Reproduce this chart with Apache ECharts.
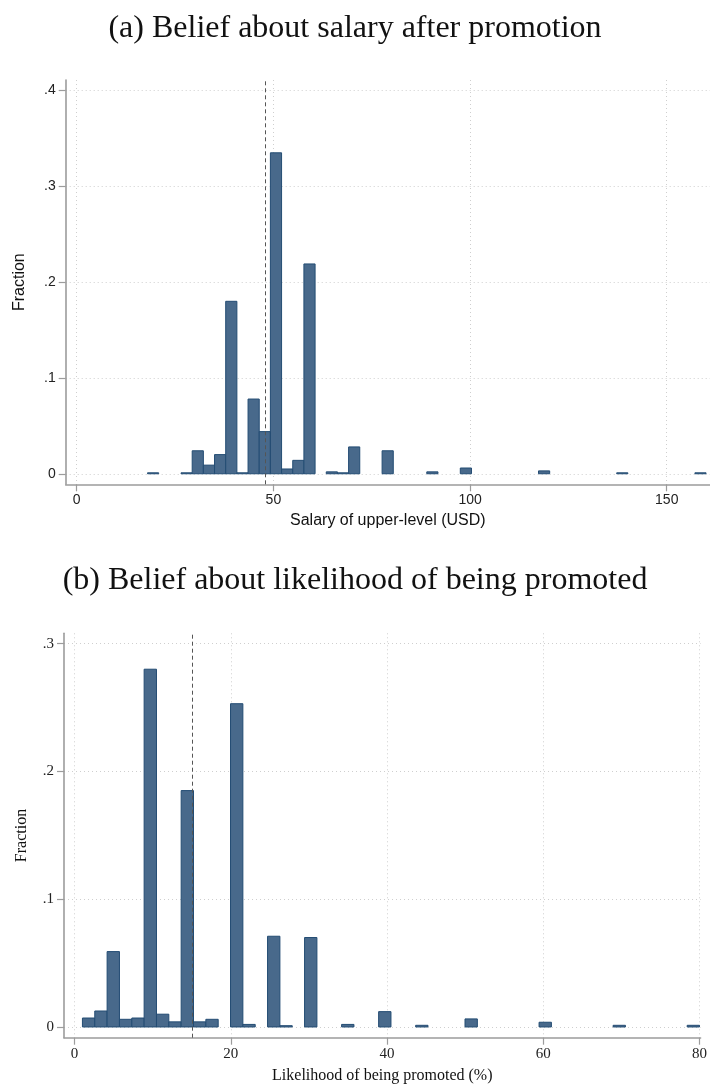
<!DOCTYPE html>
<html>
<head>
<meta charset="utf-8">
<script src="https://cdn.jsdelivr.net/npm/echarts@6/dist/echarts.min.js"></script>
<style>
  html, body { margin: 0; padding: 0; background: #ffffff; }
  #chart { width: 710px; height: 1088px; }
</style>
</head>
<body>
<div id="chart"></div>
<script>
// Panel (a): salary beliefs, histogram bins (lower edge) and fraction per bin
const salaryBinWidth = 2.84;
const salaryBinLo = [18.00, 26.52, 29.36, 32.20, 35.04, 37.88, 40.72, 43.56, 46.40, 49.24, 52.08,
                     54.92, 57.76, 63.44, 66.28, 69.12, 77.64, 89.00, 97.52, 117.40, 137.28, 157.16];
const salaryFrac  = [0.001, 0.001, 0.024, 0.009, 0.020, 0.180, 0.001, 0.078, 0.044, 0.335, 0.005,
                     0.014, 0.219, 0.002, 0.001, 0.028, 0.024, 0.002, 0.006, 0.003, 0.001, 0.001];
const salaryMean = 48;
const salaryXTicks = [0, 50, 100, 150];
const salaryYTicks = [0, 0.1, 0.2, 0.3, 0.4];

// Panel (b): promotion likelihood beliefs
const promoBinWidth = 1.58;
const promoBinLo = [1.00, 2.58, 4.16, 5.74, 7.32, 8.90, 10.48, 12.06, 13.64, 15.22, 16.80, 19.96,
                    21.54, 24.70, 26.28, 29.44, 34.18, 38.92, 43.66, 49.98, 59.46, 68.94, 78.42];
const promoFrac  = [0.007, 0.0125, 0.059, 0.006, 0.007, 0.280, 0.010, 0.004, 0.185, 0.004, 0.006, 0.253,
                    0.002, 0.071, 0.001, 0.070, 0.002, 0.012, 0.0013, 0.0063, 0.0037, 0.0013, 0.0013];
const promoMean = 15;
const promoXTicks = [0, 20, 40, 60, 80];
const promoYTicks = [0, 0.1, 0.2, 0.3];

const BAR_FILL = '#48698b';
const BAR_EDGE = '#234c73';
const AXIS_GREY = '#9c9c9c';
const GRID_GREY = '#cfcfcf';

function binRows(lo, w, frac) {
  return lo.map((x, i) => [x, x + w, frac[i]]);
}

function renderBar(params, api) {
  const top = api.coord([api.value(0), api.value(2)]);
  const base = api.coord([api.value(1), 0]);
  return {
    type: 'rect',
    shape: { x: top[0], y: top[1], width: base[0] - top[0], height: base[1] - top[1] },
    style: { fill: BAR_FILL, stroke: BAR_EDGE, lineWidth: 1 }
  };
}

function fracLabel(v) {
  return v === 0 ? '0' : String(v).replace(/^0/, '');
}

function xAxisCfg(gridIndex, min, max, ticks, font, size, name, gap) {
  return {
    type: 'value', gridIndex, min, max,
    name, nameLocation: 'middle', nameGap: gap,
    nameTextStyle: { fontFamily: font, fontSize: 16, color: '#111' },
    axisLine: { show: true, onZero: false, lineStyle: { color: AXIS_GREY, width: 1.6 } },
    axisTick: { show: true, length: 7, customValues: ticks, lineStyle: { color: AXIS_GREY, width: 1.2 } },
    axisLabel: { customValues: ticks, margin: 9, fontFamily: font, fontSize: size, color: '#222' },
    splitLine: { show: true, lineStyle: { color: GRID_GREY, type: [1, 3], width: 1 } }
  };
}

function yAxisCfg(gridIndex, min, max, ticks, font, size, gap) {
  return {
    type: 'value', gridIndex, min, max,
    name: 'Fraction', nameLocation: 'middle', nameGap: gap,
    nameTextStyle: { fontFamily: font, fontSize: 16, color: '#111' },
    axisLine: { show: true, onZero: false, lineStyle: { color: AXIS_GREY, width: 1.6 } },
    axisTick: { show: true, length: 7, customValues: ticks, lineStyle: { color: AXIS_GREY, width: 1.2 } },
    axisLabel: { customValues: ticks, margin: 10, fontFamily: font, fontSize: size, color: '#222',
                 formatter: fracLabel },
    splitLine: { show: true, lineStyle: { color: GRID_GREY, type: [1, 3], width: 1 } }
  };
}

function meanLine(x) {
  return {
    silent: true, symbol: 'none', label: { show: false },
    lineStyle: { color: '#555', type: [4, 3], width: 1 },
    data: [{ xAxis: x }]
  };
}

const SANS = 'Liberation Sans';
const SERIF = 'Liberation Serif';

const chart = echarts.init(document.getElementById('chart'), null, { renderer: 'canvas' });
chart.setOption({
  backgroundColor: '#ffffff',
  animation: false,
  title: [
    { text: '(a) Belief about salary after promotion', left: 'center', top: 8,
      textStyle: { fontFamily: SERIF, fontSize: 32, fontWeight: 'normal', color: '#111' } },
    { text: '(b) Belief about likelihood of being promoted', left: 'center', top: 560,
      textStyle: { fontFamily: SERIF, fontSize: 32, fontWeight: 'normal', color: '#111' } }
  ],
  grid: [
    { left: 65.7, right: 0, top: 80, height: 404.3 },
    { left: 64, right: 3, top: 633.3, height: 404.4 }
  ],
  xAxis: [
    xAxisCfg(0, -2.8, 161, salaryXTicks, SANS, 14, 'Salary of upper-level (USD)', 28),
    xAxisCfg(1, -1.36, 80.14, promoXTicks, SERIF, 15, 'Likelihood of being promoted (%)', 30)
  ],
  yAxis: [
    yAxisCfg(0, -0.011, 0.411, salaryYTicks, SANS, 14, 38),
    yAxisCfg(1, -0.0084, 0.3081, promoYTicks, SERIF, 15, 34)
  ],
  series: [
    { type: 'custom', xAxisIndex: 0, yAxisIndex: 0, renderItem: renderBar,
      encode: { x: [0, 1], y: 2 }, data: binRows(salaryBinLo, salaryBinWidth, salaryFrac),
      markLine: meanLine(salaryMean) },
    { type: 'custom', xAxisIndex: 1, yAxisIndex: 1, renderItem: renderBar,
      encode: { x: [0, 1], y: 2 }, data: binRows(promoBinLo, promoBinWidth, promoFrac),
      markLine: meanLine(promoMean) }
  ]
});
</script>
</body>
</html>
